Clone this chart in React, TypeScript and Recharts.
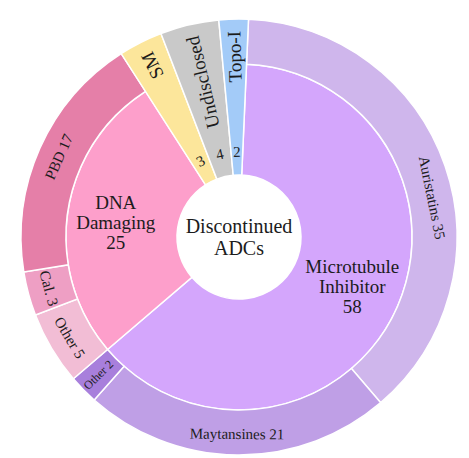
import { PieChart, Pie, Cell } from 'recharts';

// inner ring: drug class
const innerNames = ['Microtubule Inhibitor', 'DNA Damaging', 'SM', 'Undisclosed', 'Topo-I'];
const innerValues = [58, 25, 3, 4, 2];
const innerColors = ['#d4a6fc', '#fd9fcb', '#fce69b', '#c9c9c9', '#a3cbf8'];

// outer ring: payload family
const outerNames = ['Auristatins', 'Maytansines', 'Other', 'Other', 'Cal.', 'PBD', 'SM', 'Undisclosed', 'Topo-I'];
const outerValues = [35, 21, 2, 5, 3, 17, 3, 4, 2];
const outerColors = ['#cfb6ec', '#bf9fe6', '#a87fdc', '#f2bdd5', '#ee9fc4', '#e57fa8', '#fce69b', '#c9c9c9', '#a3cbf8'];

// classes drawn as one slice across both rings
const spanning = ['SM', 'Undisclosed', 'Topo-I'];

const CX = 239;
const CY = 237;
const HOLE = 62;
const MID = 173;
const OUTER = 218;
const START = 87.5;
const FONT = '"Liberation Serif", "DejaVu Serif", serif';
const INK = '#1c1c1c';
const RAD = Math.PI / 180;

const innerData = innerNames.map((name, i) => ({ name, value: innerValues[i] }));
const outerData = outerNames.map((name, i) => ({ name, value: outerValues[i] }));

const pt = (cx: number, cy: number, r: number, a: number) => ({
  x: cx + r * Math.cos(-a * RAD),
  y: cy + r * Math.sin(-a * RAD),
});

const norm = (a: number) => ((((a + 180) % 360) + 360) % 360) - 180;
// text running along the ring, kept upright
const tangent = (a: number) => {
  const t = norm(a);
  return t > 0 ? 90 - t : -90 - t;
};

const InnerLabel = (props: any) => {
  const { midAngle, index } = props;
  const name = innerNames[index];
  if (spanning.includes(name)) return null;
  const { x, y } = pt(props.cx ?? CX, props.cy ?? CY, 124, midAngle + 2);
  const lines = [...name.split(' '), String(innerValues[index])];
  return (
    <text x={x} y={y} textAnchor="middle" fontSize={19} fill={INK} fontFamily={FONT}>
      {lines.map((l, i) => (
        <tspan key={i} x={x} dy={i === 0 ? -(lines.length - 1) * 10 + 6 : 20}>
          {l}
        </tspan>
      ))}
    </text>
  );
};

const OuterLabel = (props: any) => {
  const { midAngle, index } = props;
  const name = outerNames[index];
  if (spanning.includes(name)) return null;
  const small = outerValues[index] <= 2;
  const a = midAngle + (name === 'Auristatins' ? -7.5 : 0);
  const { x, y } = pt(props.cx ?? CX, props.cy ?? CY, 197, a);
  let rot = tangent(a);
  if (small) {
    // too narrow: run it radially
    const t = norm(a);
    rot = Math.abs(t) > 90 ? 180 - t : -t;
  }
  return (
    <text
      x={x}
      y={y}
      textAnchor="middle"
      dominantBaseline="central"
      fontSize={small ? 12 : 15}
      fill={INK}
      fontFamily={FONT}
      transform={`rotate(${rot} ${x} ${y})`}
    >
      {`${name} ${outerValues[index]}`}
    </text>
  );
};

const SpanLabel = (props: any) => {
  const { midAngle, index } = props;
  const name = innerNames[index];
  if (!spanning.includes(name)) return null;
  const cx = props.cx ?? CX;
  const cy = props.cy ?? CY;
  const n = pt(cx, cy, 85, midAngle);
  const t = pt(cx, cy, 206, midAngle);
  const inward = midAngle > 110;
  const rot = inward ? 180 - midAngle : -midAngle;
  return (
    <g fontFamily={FONT} fill={INK}>
      <text
        x={n.x}
        y={n.y}
        textAnchor="middle"
        dominantBaseline="central"
        fontSize={15}
        transform={`rotate(${tangent(midAngle)} ${n.x} ${n.y})`}
      >
        {innerValues[index]}
      </text>
      <text
        x={t.x}
        y={t.y}
        textAnchor={inward ? 'start' : 'end'}
        dominantBaseline="central"
        fontSize={19}
        transform={`rotate(${rot} ${t.x} ${t.y})`}
      >
        {name}
      </text>
    </g>
  );
};

export default function App() {
  return (
    <div style={{ position: 'absolute', left: 0, top: 0, background: '#fff' }}>
      <PieChart width={469} height={458} margin={{ top: 0, right: 0, bottom: 0, left: 0 }}>
        <Pie
          data={innerData}
          dataKey="value"
          nameKey="name"
          cx={CX}
          cy={CY}
          innerRadius={HOLE}
          outerRadius={MID}
          startAngle={START}
          endAngle={START - 360}
          stroke="#fff"
          strokeWidth={1.5}
          label={InnerLabel}
          labelLine={false}
          isAnimationActive={false}
        >
          {innerNames.map((name, i) => (
            <Cell
              key={name}
              fill={spanning.includes(name) ? 'transparent' : innerColors[i]}
              stroke={spanning.includes(name) ? 'none' : '#fff'}
            />
          ))}
        </Pie>
        <Pie
          data={outerData}
          dataKey="value"
          nameKey="name"
          cx={CX}
          cy={CY}
          innerRadius={MID}
          outerRadius={OUTER}
          startAngle={START}
          endAngle={START - 360}
          stroke="#fff"
          strokeWidth={1.5}
          label={OuterLabel}
          labelLine={false}
          isAnimationActive={false}
        >
          {outerNames.map((name, i) => (
            <Cell
              key={i}
              fill={spanning.includes(name) ? 'transparent' : outerColors[i]}
              stroke={spanning.includes(name) ? 'none' : '#fff'}
            />
          ))}
        </Pie>
        <Pie
          data={innerData}
          dataKey="value"
          nameKey="name"
          cx={CX}
          cy={CY}
          innerRadius={HOLE}
          outerRadius={OUTER}
          startAngle={START}
          endAngle={START - 360}
          stroke="#fff"
          strokeWidth={1.5}
          label={SpanLabel}
          labelLine={false}
          isAnimationActive={false}
        >
          {innerNames.map((name, i) => (
            <Cell
              key={name}
              fill={spanning.includes(name) ? innerColors[i] : 'transparent'}
              stroke={spanning.includes(name) ? '#fff' : 'none'}
            />
          ))}
        </Pie>
        <text x={CX} y={CY - 11} textAnchor="middle" dominantBaseline="central" fontSize={20} fill={INK} fontFamily={FONT}>
          Discontinued
        </text>
        <text x={CX} y={CY + 11} textAnchor="middle" dominantBaseline="central" fontSize={20} fill={INK} fontFamily={FONT}>
          ADCs
        </text>
      </PieChart>
    </div>
  );
}
